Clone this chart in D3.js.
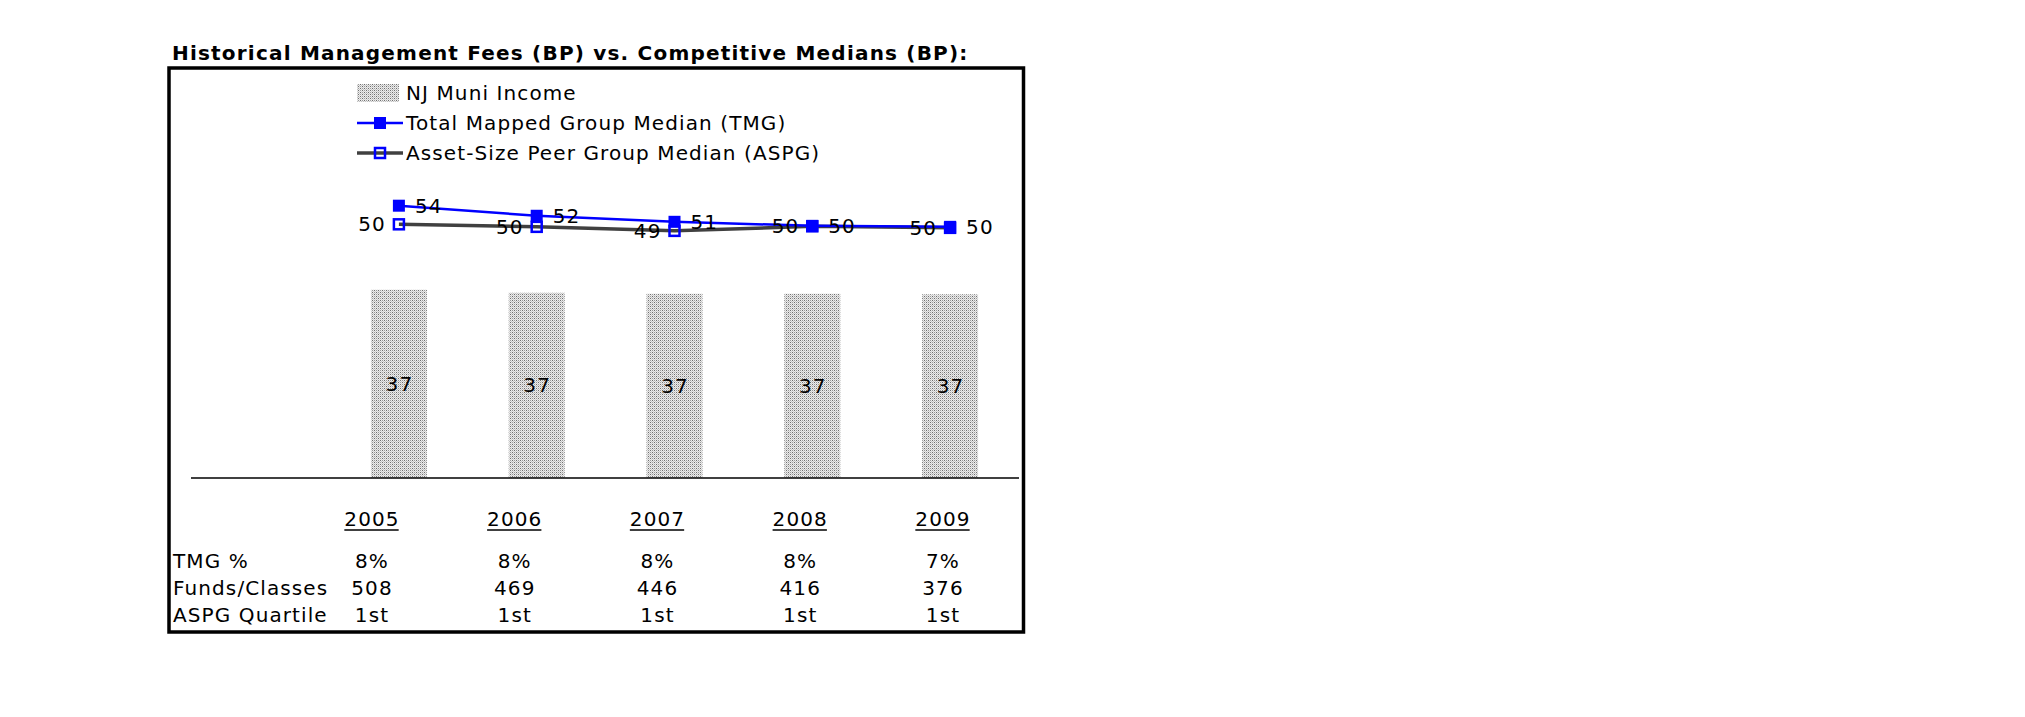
<!DOCTYPE html>
<html>
<head>
<meta charset="utf-8">
<script src="https://cdn.jsdelivr.net/npm/d3@7"></script>
<style>
  html, body { margin: 0; padding: 0; background: #fff; }
  svg { display: block; }
  text { font-family: "DejaVu Sans", Verdana, sans-serif; fill: #000; letter-spacing: 1.1px; }
</style>
</head>
<body>
<svg id="chart" width="2025" height="717"></svg>
<script>
// ---- data ----
const years = ["2005", "2006", "2007", "2008", "2009"];
const fundValues = [37.4, 36.8, 36.6, 36.6, 36.5];      // NJ Muni Income (bars)
const tmgValues = [54.1, 52.1, 50.9, 50.1, 49.9];       // Total Mapped Group Median
const aspgValues = [50.4, 49.9, 49.1, 50.0, 49.7];      // Asset-Size Peer Group Median
const tmgPct = ["8%", "8%", "8%", "8%", "7%"];
const fundsClasses = ["508", "469", "446", "416", "376"];
const aspgQuartile = ["1st", "1st", "1st", "1st", "1st"];
const rowLabels = ["TMG %", "Funds/Classes", "ASPG Quartile"];
const seriesNames = ["NJ Muni Income", "Total Mapped Group Median (TMG)", "Asset-Size Peer Group Median (ASPG)"];
const titleText = "Historical Management Fees (BP) vs. Competitive Medians (BP):";

// ---- setup ----
const svg = d3.select("#chart");
const FS = 20;
const BLUE = "#0000ff";
const GRAY = "#404040";

const defs = svg.append("defs");
const pat = defs.append("pattern").attr("id", "dots")
  .attr("patternUnits", "userSpaceOnUse").attr("width", 4).attr("height", 4);
pat.append("rect").attr("width", 4).attr("height", 4).attr("fill", "#ececec");
[[0,0,"#6e6e6e"],[2,0,"#9a9a9a"],[1,1,"#c4c4c4"],[3,1,"#c4c4c4"],[0,2,"#9a9a9a"],[2,2,"#6e6e6e"],[1,3,"#d0d0d0"],[3,3,"#d0d0d0"]]
  .forEach(([x,y,c]) => pat.append("rect").attr("x", x).attr("y", y).attr("width", 1).attr("height", 1).attr("fill", c));

// title
svg.append("text").attr("x", 172).attr("y", 60)
  .attr("font-size", 20).attr("font-weight", "bold").style("letter-spacing", "1.2px").text(titleText);

// frame
svg.append("rect").attr("x", 169).attr("y", 68).attr("width", 854.5).attr("height", 564)
  .attr("fill", "none").attr("stroke", "#000").attr("stroke-width", 3.5);

// scales
const x = d3.scaleBand().domain(years).range([330, 1019]).paddingInner(0.594).paddingOuter(0.297);
const y = d3.scaleLinear().domain([0, 60]).range([478, 176]);
const cx = d => x(d) + x.bandwidth() / 2;

// bars
svg.append("g").selectAll("rect").data(years).join("rect")
  .attr("x", d => x(d)).attr("width", x.bandwidth())
  .attr("y", (d, i) => y(fundValues[i])).attr("height", (d, i) => y(0) - y(fundValues[i]))
  .attr("fill", "url(#dots)");
svg.append("g").selectAll("text").data(years).join("text")
  .attr("x", d => cx(d) + 0.5).attr("y", (d, i) => (y(0) + y(fundValues[i])) / 2)
  .attr("text-anchor", "middle").attr("dominant-baseline", "central").attr("font-size", FS)
  .text((d, i) => d3.format(".0f")(fundValues[i]));

// category axis line
svg.append("line").attr("x1", 191).attr("x2", 1019).attr("y1", y(0)).attr("y2", y(0))
  .attr("stroke", "#000").attr("stroke-width", 1.5);

// lines
const line = vals => d3.line().x((d, i) => cx(years[i])).y(d => y(d))(vals);
svg.append("path").attr("d", line(aspgValues)).attr("fill", "none").attr("stroke", GRAY).attr("stroke-width", 3.5);
svg.append("path").attr("d", line(tmgValues)).attr("fill", "none").attr("stroke", BLUE).attr("stroke-width", 2.5);

// ASPG markers (hollow)
svg.append("g").selectAll("rect").data(aspgValues).join("rect")
  .attr("x", (d, i) => cx(years[i]) - 5).attr("y", d => y(d) - 5)
  .attr("width", 10).attr("height", 10)
  .attr("fill", "none").attr("stroke", BLUE).attr("stroke-width", 2.5);
// TMG markers (filled)
svg.append("g").selectAll("rect").data(tmgValues).join("rect")
  .attr("x", (d, i) => cx(years[i]) - 6).attr("y", d => y(d) - 6)
  .attr("width", 12).attr("height", 12).attr("fill", BLUE);

// labels
svg.append("g").selectAll("text").data(aspgValues).join("text")
  .attr("x", (d, i) => cx(years[i]) - 13).attr("y", d => y(d))
  .attr("text-anchor", "end").attr("dominant-baseline", "central").attr("font-size", FS)
  .text(d => d3.format(".0f")(d));
svg.append("g").selectAll("text").data(tmgValues).join("text")
  .attr("x", (d, i) => cx(years[i]) + 16).attr("y", d => y(d))
  .attr("text-anchor", "start").attr("dominant-baseline", "central").attr("font-size", FS)
  .text(d => d3.format(".0f")(d));

// legend
const lg = svg.append("g");
const lx = 357, ly = [93, 123, 153];
lg.append("rect").attr("x", lx).attr("y", ly[0] - 9).attr("width", 42).attr("height", 18).attr("fill", "url(#dots)");
lg.append("line").attr("x1", lx).attr("x2", lx + 46).attr("y1", ly[1]).attr("y2", ly[1]).attr("stroke", BLUE).attr("stroke-width", 2.5);
lg.append("rect").attr("x", lx + 23 - 6).attr("y", ly[1] - 6).attr("width", 12).attr("height", 12).attr("fill", BLUE);
lg.append("line").attr("x1", lx).attr("x2", lx + 46).attr("y1", ly[2]).attr("y2", ly[2]).attr("stroke", GRAY).attr("stroke-width", 3.5);
lg.append("rect").attr("x", lx + 23 - 5).attr("y", ly[2] - 5).attr("width", 10).attr("height", 10)
  .attr("fill", "none").attr("stroke", BLUE).attr("stroke-width", 2.5);
lg.selectAll("text.leg").data(seriesNames).join("text").attr("class", "leg")
  .attr("x", 406).attr("y", (d, i) => ly[i]).attr("dominant-baseline", "central")
  .attr("font-size", FS).text(d => d);

// table
const col = d3.scalePoint().domain(years).range([372, 943]);
const yearRow = svg.append("g");
yearRow.selectAll("text").data(years).join("text")
  .attr("x", d => col(d)).attr("y", 526).attr("text-anchor", "middle").attr("font-size", FS)
  .text(d => d)
  .each(function() {
    const b = this.getBBox();
    yearRow.append("line").attr("x1", b.x).attr("x2", b.x + b.width - 1)
      .attr("y1", 530).attr("y2", 530).attr("stroke", "#000").attr("stroke-width", 1.5);
  });

const rows = [tmgPct, fundsClasses, aspgQuartile];
const rowY = [561, 588, 615];
rows.forEach((vals, r) => {
  svg.append("text").attr("x", 173).attr("y", rowY[r]).attr("dominant-baseline", "central")
    .attr("font-size", FS).text(rowLabels[r]);
  svg.append("g").selectAll("text").data(vals).join("text")
    .attr("x", (d, i) => col(years[i])).attr("y", rowY[r]).attr("dominant-baseline", "central")
    .attr("text-anchor", "middle").attr("font-size", FS).text(d => d);
});
</script>
</body>
</html>
